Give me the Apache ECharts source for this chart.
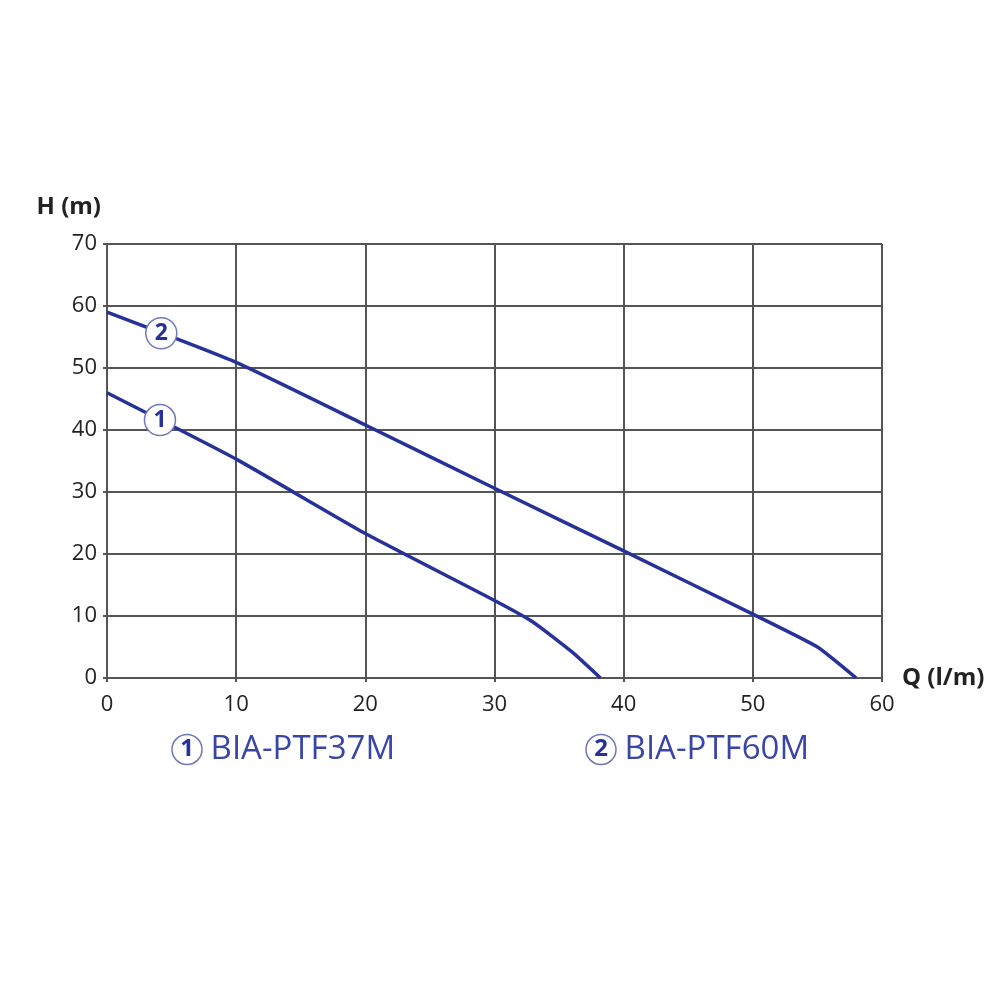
<!DOCTYPE html>
<html>
<head>
<meta charset="utf-8">
<script src="https://cdn.jsdelivr.net/npm/echarts@6/dist/echarts.min.js"></script>
<style>
html, body { margin: 0; padding: 0; background: #fff; }
#chart { width: 1000px; height: 1000px; }
</style>
</head>
<body>
<div id="chart"></div>
<script>
// pump curves, Q (l/m) -> H (m)
var namePump1 = 'BIA-PTF37M';
var namePump2 = 'BIA-PTF60M';
var curve1 = [[0, 46], [10, 35.3], [20, 23.3], [30, 12.5], [33, 9], [36, 4.2], [38.2, 0]];
var curve2 = [[0, 59], [10, 50.9], [20, 40.8], [30, 30.6], [40, 20.5], [50, 10.3], [55, 5], [58, 0]];
// where the circled numbers sit on each curve
var badge1 = [[4.1, 41.6]];
var badge2 = [[4.2, 55.6]];

var blue = '#26329a';

var myChart = echarts.init(document.getElementById('chart'));

function badgeSeries(num, data) {
    return {
        type: 'scatter',
        data: data,
        symbol: 'circle',
        symbolSize: 31,
        z: 5,
        itemStyle: {color: '#fff', borderColor: '#6f78b8', borderWidth: 1.5, opacity: 1},
        label: {
            show: true,
            position: 'inside',
            formatter: num,
            color: blue,
            fontSize: 23,
            fontWeight: 'bold',
            fontFamily: 'Open Sans'
        },
        silent: true
    };
}

function legendItem(num, name, left) {
    return {
        data: [name],
        left: left,
        top: 728,
        icon: 'none',
        itemWidth: 0,
        selectedMode: false,
        formatter: function (n) { return '{c|' + num + '} ' + n; },
        textStyle: {
            color: '#3a46a6',
            fontSize: 33,
            fontFamily: 'Open Sans',
            rich: {
                c: {
                    width: 30, height: 30,
                    borderRadius: 16,
                    borderColor: '#6f78b8',
                    borderWidth: 1.5,
                    align: 'center',
                    color: blue,
                    fontSize: 24,
                    fontWeight: 'bold',
                    fontFamily: 'Open Sans'
                }
            }
        }
    };
}

option = {
    backgroundColor: '#fff',
    animation: false,
    legend: [legendItem('1', namePump1, 162), legendItem('2', namePump2, 576)],
    grid: {left: 107, right: 118, top: 244, bottom: 322},
    xAxis: {
        type: 'value',
        min: 0, max: 60, interval: 10,
        name: 'Q (l/m)',
        nameLocation: 'end',
        nameGap: 20,
        nameTextStyle: {color: '#222', fontSize: 24, fontWeight: 'bold', fontFamily: 'Open Sans', padding: [0, 0, 10, 0]},
        axisLine: {lineStyle: {color: '#555', width: 2}},
        axisTick: {show: true, length: 4, lineStyle: {color: '#555', width: 2}},
        axisLabel: {color: '#222', fontSize: 22, fontFamily: 'Open Sans', margin: 16},
        splitLine: {lineStyle: {color: '#555', width: 2}}
    },
    yAxis: {
        type: 'value',
        min: 0, max: 70, interval: 10,
        name: 'H (m)',
        nameLocation: 'end',
        nameGap: 25,
        nameTextStyle: {color: '#222', fontSize: 24, fontWeight: 'bold', fontFamily: 'Open Sans', align: 'right', padding: [0, 6, 0, 0]},
        axisLine: {show: true, lineStyle: {color: '#555', width: 2}},
        axisTick: {show: true, length: 4, lineStyle: {color: '#555', width: 2}},
        axisLabel: {color: '#222', fontSize: 22, fontFamily: 'Open Sans', margin: 10},
        splitLine: {lineStyle: {color: '#555', width: 2}}
    },
    series: [
        {
            name: namePump1,
            type: 'line',
            data: curve1,
            smooth: 0.15,
            showSymbol: false,
            lineStyle: {color: blue, width: 3.5},
            itemStyle: {color: blue}
        },
        {
            name: namePump2,
            type: 'line',
            data: curve2,
            smooth: 0.15,
            showSymbol: false,
            lineStyle: {color: blue, width: 3.5},
            itemStyle: {color: blue}
        },
        badgeSeries('1', badge1),
        badgeSeries('2', badge2)
    ]
};
myChart.setOption(option, true);
</script>
</body>
</html>
